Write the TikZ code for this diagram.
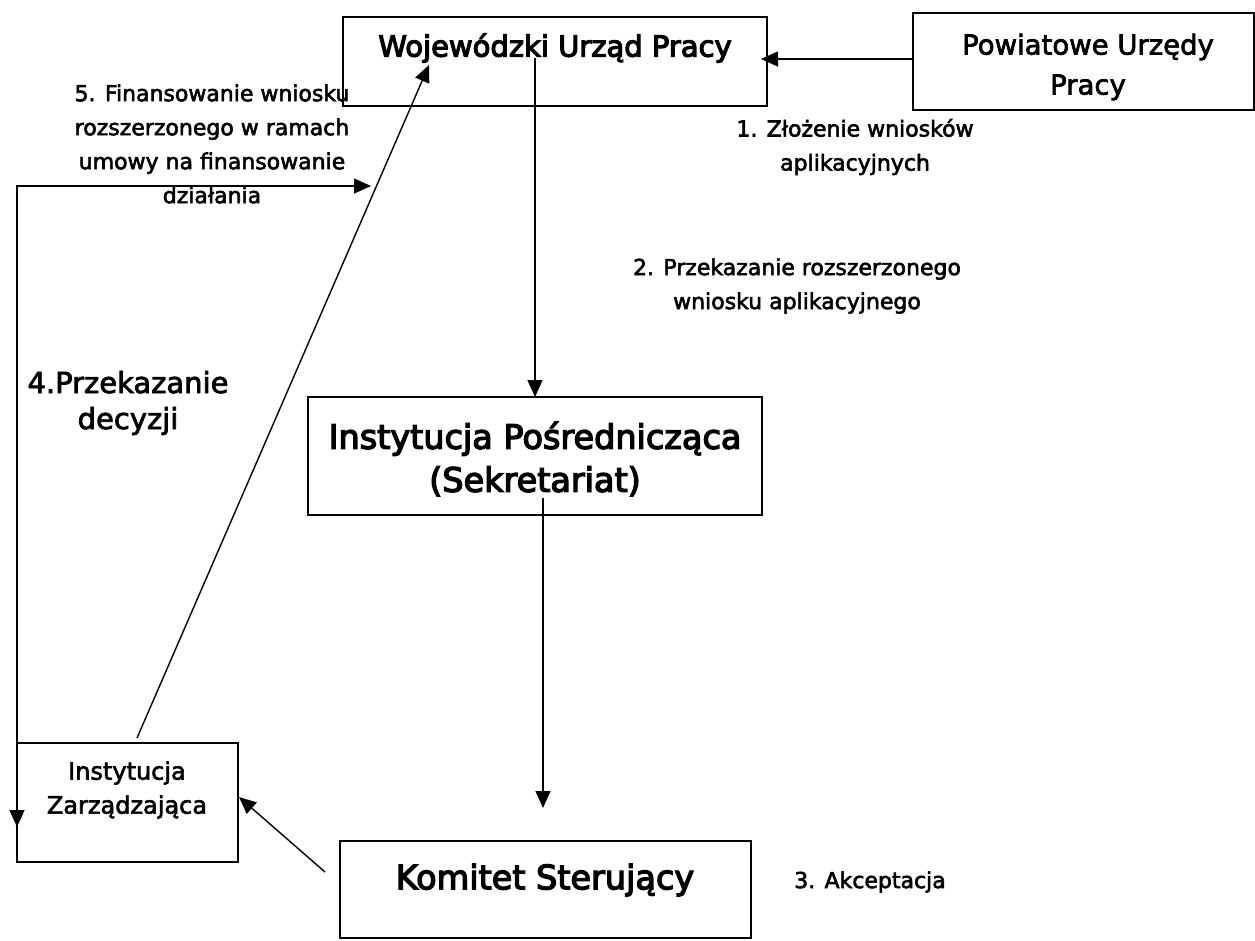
\documentclass[tikz,border=0pt]{standalone}
\usepackage{fontspec}
\setmainfont{DejaVu Sans}
\newfontfamily\heavyfont{DejaVu Sans}[FakeBold=4]
\newfontfamily\lblfont{DejaVu Sans}[FakeBold=2.5]
\usetikzlibrary{arrows.meta}
\begin{document}
\begin{tikzpicture}[x=1pt,y=-1pt,
  boxn/.style={draw=black, line width=1.6pt, anchor=north west, inner sep=0pt, outer sep=0pt},
  conn/.style={line width=1.4pt, -{Triangle[length=17pt,width=15pt]}},
  lbl/.style={align=center, inner sep=0pt, font=\lblfont\fontsize{22}{34}\selectfont},
  bigt/.style={align=center, inner sep=0pt}
]
\fill[white] (0,0) rectangle (1255,940);
\useasboundingbox (0,0) rectangle (1255,940);

% boxes
\node[boxn, minimum width=424pt, minimum height=89pt] (wup) at (343,17) {};
\node[boxn, minimum width=341pt, minimum height=97pt] (pup) at (913,13) {};
\node[boxn, minimum width=454pt, minimum height=118pt] (ip) at (308,397) {};
\node[boxn, minimum width=411pt, minimum height=97pt] (ks) at (340,841) {};
\node[boxn, minimum width=221pt, minimum height=119pt] (iz) at (17,743) {};

% box texts
\node[bigt, font=\heavyfont\fontsize{29}{40}\selectfont] (wupt) at (555,48) {Wojewódzki Urząd Pracy};
\node[bigt, font=\lblfont\fontsize{27.5}{40}\selectfont] (pupt) at (1088,67) {Powiatowe Urzędy\\Pracy};
\node[bigt, font=\heavyfont\fontsize{33.5}{43}\selectfont] (ipt) at (535,459) {Instytucja Pośrednicząca\\(Sekretariat)};
\node[bigt, font=\heavyfont\fontsize{33.5}{43}\selectfont] (kst) at (545,880) {Komitet Sterujący};
\node[bigt, font=\lblfont\fontsize{24}{34}\selectfont] (izt) at (127,790) {Instytucja\\Zarządzająca};

% labels
\node[lbl] (l1) at (855,147) {1. Złożenie wniosków\\aplikacyjnych};
\node[lbl] (l2) at (797,286) {2. Przekazanie rozszerzonego\\wniosku aplikacyjnego};
\node[lbl] (l3) at (870,882) {3. Akceptacja};
\node[lbl, font=\lblfont\fontsize{29}{36}\selectfont] (l4) at (128,403) {4.Przekazanie\\decyzji};
\node[lbl] (l5) at (212,144) {5. Finansowanie wniosku\\rozszerzonego w ramach\\umowy na finansowanie\\działania};

% connector end points
\coordinate (t1) at (761,59);
\coordinate (s2) at (535,58);
\coordinate (s3) at (543,498);
\coordinate (t3) at (543,808);
\coordinate (s4) at (325,872);
\coordinate (t4) at (239,797);
\coordinate (s5) at (137,738);
\coordinate (t5) at (429,65);
\coordinate (c6) at (17,186);
\coordinate (a6) at (17,827);
\coordinate (b6) at (371,186);

% connectors
\draw[conn] (pup.west |- t1) -- (t1);
\draw[conn] (s2) -- (s2 |- ip.north);
\draw[conn] (s3) -- (t3);
\draw[conn] (s4) -- (t4);
\draw[conn] (s5) -- (t5);
\draw[line width=1.4pt, {Triangle[length=17pt,width=15pt]}-{Triangle[length=17pt,width=15pt]}] (a6) -- (c6) -- (b6);
\end{tikzpicture}
\end{document}
